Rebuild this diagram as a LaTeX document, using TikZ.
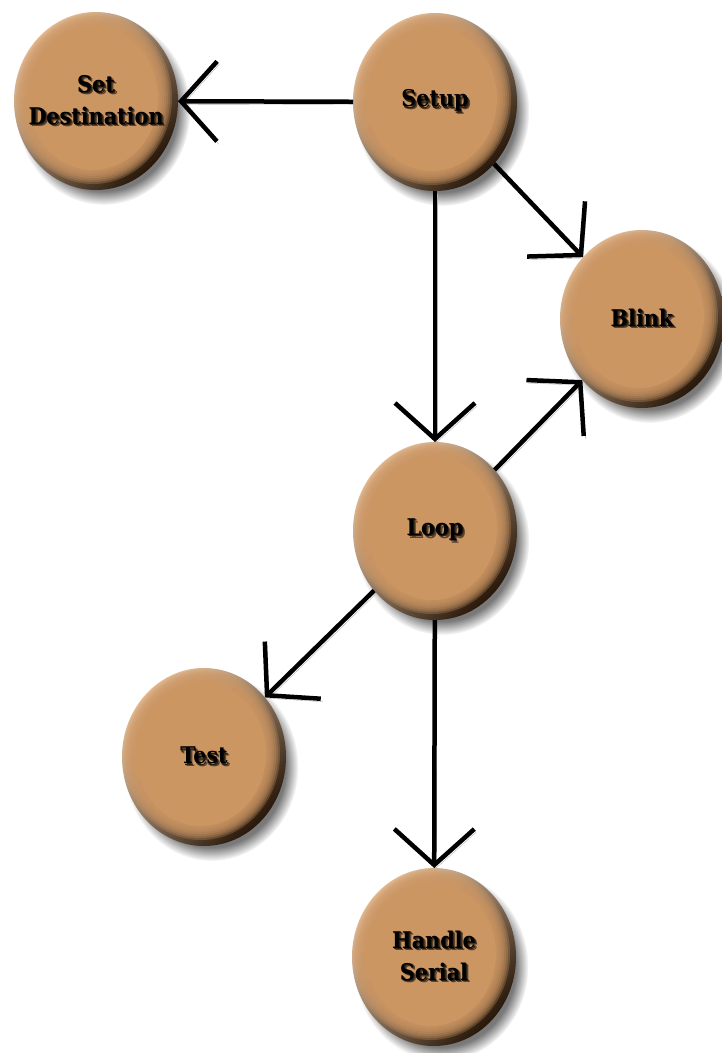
\documentclass[tikz,border=0pt]{standalone}
\usepackage{fontspec}
\newfontfamily\beadfont[FakeStretch=0.9]{DejaVu Serif}
\usepackage{tikz}
\usetikzlibrary{arrows.meta,shapes.geometric,shadows,fadings}

\definecolor{beadtan}{RGB}{204,150,99}
\definecolor{beadlight}{RGB}{240,208,176}
\definecolor{beaddark}{RGB}{40,24,10}

% label with a soft shadow under it
\newcommand{\beadlabel}[1]{\rlap{\kern2.5pt\raisebox{-2.5pt}{\color{beadtan!45!black}#1}}\rlap{\kern1.2pt\raisebox{-1.2pt}{\color{beadtan!20!black}#1}}#1}

\tikzset{
  bead/.style={ellipse, minimum width=164pt, minimum height=178pt, inner xsep=-15pt, inner ysep=-10pt, outer sep=0pt,
    top color=beadlight, middle color=beadtan, bottom color=beaddark, shading angle=45,
    circular drop shadow={shadow xshift=7pt, shadow yshift=-9pt, shadow scale=1.06, opacity=.7, fill=black!75},
    path picture={
      \foreach \r in {0,...,6}
        \fill[beadtan, fill opacity=.3] ([shift={(-3pt,3pt)}]path picture bounding box.center)
          ellipse [x radius={79pt-2pt*\r}, y radius={86pt-2pt*\r}];
      \fill[beadtan] ([shift={(-3pt,3pt)}]path picture bounding box.center)
          ellipse [x radius=65pt, y radius=72pt];
    },
    font=\beadfont\bfseries\fontsize{23}{32}\selectfont, align=center},
  link/.style={line width=4.5pt, -{Straight Barb[length=36pt,width=80pt]},
    preaction={draw=black!30, transform canvas={shift={(2pt,-3pt)}}}}
}

\begin{document}
\begin{tikzpicture}[x=1pt, y=-1pt]

    %% Background
    \useasboundingbox (0,0) rectangle (722,1053);

    \node[bead] (dest)   at (96,101)  {\beadlabel{Set}\\\beadlabel{Destination}};
    \node[bead] (setup)  at (435,102) {\beadlabel{Setup}};
    \node[bead] (blink)  at (642,319) {\beadlabel{Blink}};
    \node[bead] (loop)   at (435,531) {\beadlabel{Loop}};
    \node[bead] (test)   at (204,757) {\beadlabel{Test}};
    \node[bead] (serial) at (434,957) {\beadlabel{Handle}\\\beadlabel{Serial}};

    \draw[link] (setup) -- (dest);
    \draw[link] (setup) -- (loop);
    \draw[link] (setup) -- (blink);
    \draw[link] (loop) -- (blink);
    \draw[link] (loop) -- (test);
    \draw[link] (loop) -- (serial);

\end{tikzpicture}
\end{document}
